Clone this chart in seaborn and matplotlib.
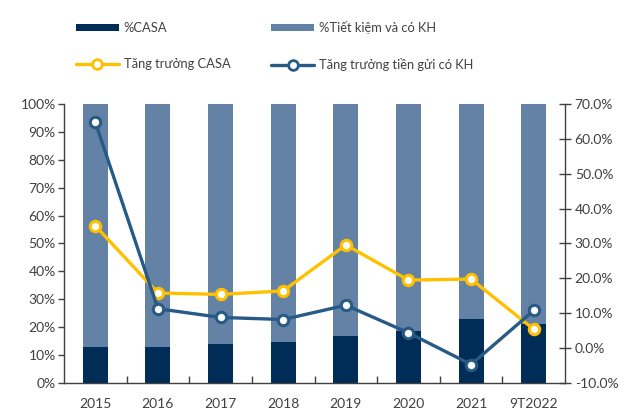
import matplotlib
matplotlib.use("Agg")
import matplotlib.pyplot as plt
import seaborn as sns
import pandas as pd
from matplotlib.patches import Patch
from matplotlib.lines import Line2D
from matplotlib.ticker import FuncFormatter, MultipleLocator

categories = ["2015", "2016", "2017", "2018", "2019", "2020", "2021", "9T2022"]
casa_share = [13.0, 13.0, 14.0, 14.8, 17.0, 18.7, 22.8, 21.1]
total_share = [100, 100, 100, 100, 100, 100, 100, 100]
casa_growth = [35.1, 15.8, 15.4, 16.4, 29.6, 19.5, 19.8, 5.4]
deposit_growth = [64.8, 11.3, 8.8, 8.2, 12.3, 4.4, -4.7, 10.8]

labels = ["%CASA", "%Tiết kiệm và có KH", "Tăng trưởng CASA", "Tăng trưởng tiền gửi có KH"]

c_dark = "#002D57"
c_light = "#6482A6"
c_yellow = "#FFC000"
c_blue = "#275A85"
c_text = "#404040"
c_axis = "#404040"

sns.set_theme(style="white")
plt.rcParams["font.family"] = ["Lato", "DejaVu Sans"]

df = pd.DataFrame({"cat": categories, "casa": casa_share, "total": total_share,
                   "g_casa": casa_growth, "g_dep": deposit_growth})

fig = plt.figure(figsize=(6.26, 4.09), dpi=100)
ax = fig.add_axes([0.1022, 0.0636, 0.8004, 0.6821])

sns.barplot(data=df, x="cat", y="total", color=c_light, width=0.4, ax=ax,
            saturation=1, edgecolor="none", order=categories)
sns.barplot(data=df, x="cat", y="casa", color=c_dark, width=0.4, ax=ax,
            saturation=1, edgecolor="none", order=categories)

ax.set_ylim(0, 100)
ax.set_xlim(-0.5, len(categories) - 0.5)
ax.yaxis.set_major_locator(MultipleLocator(10))
ax.yaxis.set_major_formatter(FuncFormatter(lambda v, p: f"{v:.0f}%"))
ax.set_xlabel("")
ax.set_ylabel("")

ax2 = ax.twinx()
sns.pointplot(data=df, x="cat", y="g_casa", order=categories, color=c_yellow,
              ax=ax2, markers="o", linestyles="-", errorbar=None,
              markersize=7.5, markeredgewidth=2.2, markerfacecolor="white",
              markeredgecolor=c_yellow, linewidth=2.4)
sns.pointplot(data=df, x="cat", y="g_dep", order=categories, color=c_blue,
              ax=ax2, markers="o", linestyles="-", errorbar=None,
              markersize=7.5, markeredgewidth=2.2, markerfacecolor="white",
              markeredgecolor=c_blue, linewidth=2.4)
ax2.set_ylim(-10, 70)
ax2.set_xlim(-0.5, len(categories) - 0.5)
ax2.yaxis.set_major_locator(MultipleLocator(10))
ax2.yaxis.set_major_formatter(FuncFormatter(lambda v, p: f"{v:.1f}%"))
ax2.set_ylabel("")
ax2.set_xlabel("")

for a in (ax, ax2):
    a.spines["top"].set_visible(False)
    for s in ("left", "right", "bottom"):
        a.spines[s].set_color(c_axis)
        a.spines[s].set_linewidth(1.0)
    a.grid(False)

ax.spines["right"].set_visible(False)
ax2.spines["left"].set_visible(False)
ax2.spines["bottom"].set_visible(False)

ax.tick_params(axis="y", which="major", direction="out", length=4, width=1,
               color=c_axis, labelsize=10, labelcolor=c_text, pad=2, left=True)
ax2.tick_params(axis="y", which="major", direction="inout", length=8, width=1,
                color=c_axis, labelsize=10, labelcolor=c_text, pad=3, right=True)

ax.set_xticks(range(len(categories)))
ax.set_xticklabels(categories)
ax.set_xticks([i + 0.5 for i in range(len(categories) - 1)], minor=True)
ax.tick_params(axis="x", which="major", length=0, labelsize=10, labelcolor=c_text, pad=11)
ax.tick_params(axis="x", which="minor", direction="in", length=5, width=1,
               color=c_axis, bottom=True)

handles = [
    Patch(facecolor=c_dark, edgecolor="none"),
    Line2D([0], [0], color=c_yellow, lw=2.4, marker="o", markersize=7,
           markerfacecolor="white", markeredgecolor=c_yellow, markeredgewidth=2),
    Patch(facecolor=c_light, edgecolor="none"),
    Line2D([0], [0], color=c_blue, lw=2.4, marker="o", markersize=7,
           markerfacecolor="white", markeredgecolor=c_blue, markeredgewidth=2),
]
leg_labels = [labels[0], labels[2], labels[1], labels[3]]
leg = fig.legend(handles, leg_labels, ncol=2, loc="upper left",
                 bbox_to_anchor=(76 / 626, 1 - 21 / 409), frameon=False,
                 fontsize=9.3, handlelength=3.3, handleheight=0.55,
                 handletextpad=0.4, labelspacing=1.85, columnspacing=3.15,
                 borderpad=0, borderaxespad=0)
for t in leg.get_texts():
    t.set_color(c_text)

fig.savefig("out.png", dpi=100)
